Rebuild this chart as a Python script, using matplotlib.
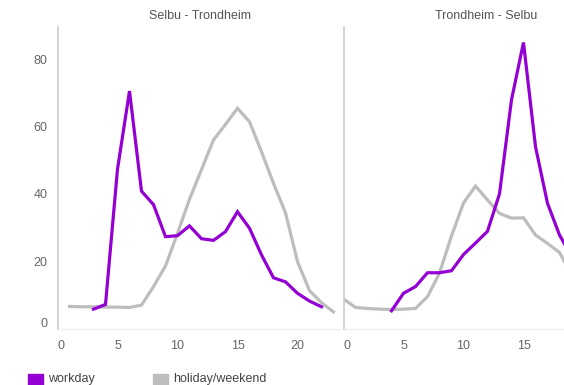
import matplotlib
matplotlib.use("Agg")
import matplotlib.pyplot as plt
import matplotlib.transforms as mtransforms
from matplotlib.patches import Rectangle

plt.rcParams["font.family"] = ["Liberation Sans", "DejaVu Sans"]

# ==========================================
# Data (hour of day -> value)
# ==========================================

titles = ["Selbu - Trondheim", "Trondheim - Selbu"]

st_work_hours = list(range(3, 23))
st_work = [5.8, 7.2, 47.3, 70.5, 40.8, 36.8, 27.3, 27.6, 30.5, 26.7,
           26.2, 28.8, 34.7, 29.8, 21.9, 15.1, 13.9, 10.5, 8.2, 6.5]

st_hol_hours = list(range(1, 24))
st_hol = [6.6, 6.5, 6.5, 6.4, 6.4, 6.3, 7.0, 12.5, 18.6, 28.3, 38.4, 47.2,
          56.0, 60.6, 65.4, 61.4, 52.5, 43.1, 34.4, 19.9, 11.3, 7.7, 5.0]

ts_work_hours = list(range(4, 20))
ts_work = [5.3, 10.5, 12.5, 16.6, 16.6, 17.2, 22.0, 25.4, 28.9, 40.0,
           67.9, 84.9, 54.0, 37.2, 27.8, 21.5]

ts_hol_hours = list(range(0, 20))
ts_hol = [8.8, 6.3, 6.0, 5.8, 5.7, 5.8, 6.0, 9.5, 16.5, 27.5,
          37.3, 42.3, 38.2, 34.2, 32.8, 32.9, 27.8, 25.3, 22.6, 16.0]

x_ticks = [0, 5, 10, 15, 20]
y_ticks = [0, 20, 40, 60, 80]

legend_labels = ["workday", "holiday/weekend"]

PURPLE = "#9400D3"
GREY = "#BDBDBD"
FS = 9

W, H = 564, 385
fig = plt.figure(figsize=(W / 100, H / 100), dpi=100)

ax_bottom = (H - 328.7) / H
ax_height = (328.7 - 27) / H
ax_width = 282 / W

ax1 = fig.add_axes([57.5 / W, ax_bottom, ax_width, ax_height])
ax2 = fig.add_axes([343.5 / W, ax_bottom, ax_width, ax_height])

panels = [
    (ax1, st_work_hours, st_work, st_hol_hours, st_hol),
    (ax2, ts_work_hours, ts_work, ts_hol_hours, ts_hol),
]

for ax, wh, wv, hh, hv in panels:
    ax.plot(hh, hv, color=GREY, lw=2.3, solid_joinstyle="miter", zorder=2)
    ax.plot(wh, wv, color=PURPLE, lw=2.3, solid_joinstyle="miter", zorder=3)
    ax.set_xlim(0, 23.5)
    ax.set_ylim(0, 89.5)
    ax.set_xticks(x_ticks)
    ax.set_yticks(y_ticks)
    for s in ["top", "right"]:
        ax.spines[s].set_visible(False)
    ax.spines["left"].set_color("#cccccc")
    ax.spines["left"].set_linewidth(1.2)
    ax.spines["bottom"].set_color("#eeeeee")
    ax.spines["bottom"].set_linewidth(1.0)
    ax.tick_params(axis="x", length=0, pad=8, labelsize=FS, labelcolor="#666666")
    ax.tick_params(axis="y", length=0, pad=7, labelsize=FS, labelcolor="#666666")
    ax.patch.set_alpha(0)

# right panel is cut by the image edge, "20" is not visible there
ax2.set_xticks(x_ticks[:-1])
ax2.tick_params(axis="y", labelleft=False)

# shift the "0" labels slightly like the original
fig.canvas.draw()
for ax in [ax1, ax2]:
    t = ax.xaxis.get_major_ticks()[0].label1
    t.set_transform(t.get_transform() +
                    mtransforms.ScaledTranslation(4 / 100, 0, fig.dpi_scale_trans))
t = ax1.yaxis.get_major_ticks()[0].label1
t.set_transform(t.get_transform() +
                mtransforms.ScaledTranslation(0, 6 / 100, fig.dpi_scale_trans))

# panel titles
fig.text(200 / W, 1 - 16 / H, titles[0], ha="center", va="center",
         fontsize=FS, color="#555555")
fig.text(486 / W, 1 - 16 / H, titles[1], ha="center", va="center",
         fontsize=FS, color="#555555")

# legend
for x0, col, lab, tx in [(28.3, PURPLE, legend_labels[0], 48.3),
                         (153, GREY, legend_labels[1], 173)]:
    fig.patches.append(Rectangle((x0 / W, (H - 389) / H), 15 / W, 15 / H,
                                 transform=fig.transFigure, color=col))
    fig.text(tx / W, (H - 382) / H, lab, ha="left", va="baseline",
             fontsize=FS, color="#444444")

fig.savefig("out.png", dpi=100)
